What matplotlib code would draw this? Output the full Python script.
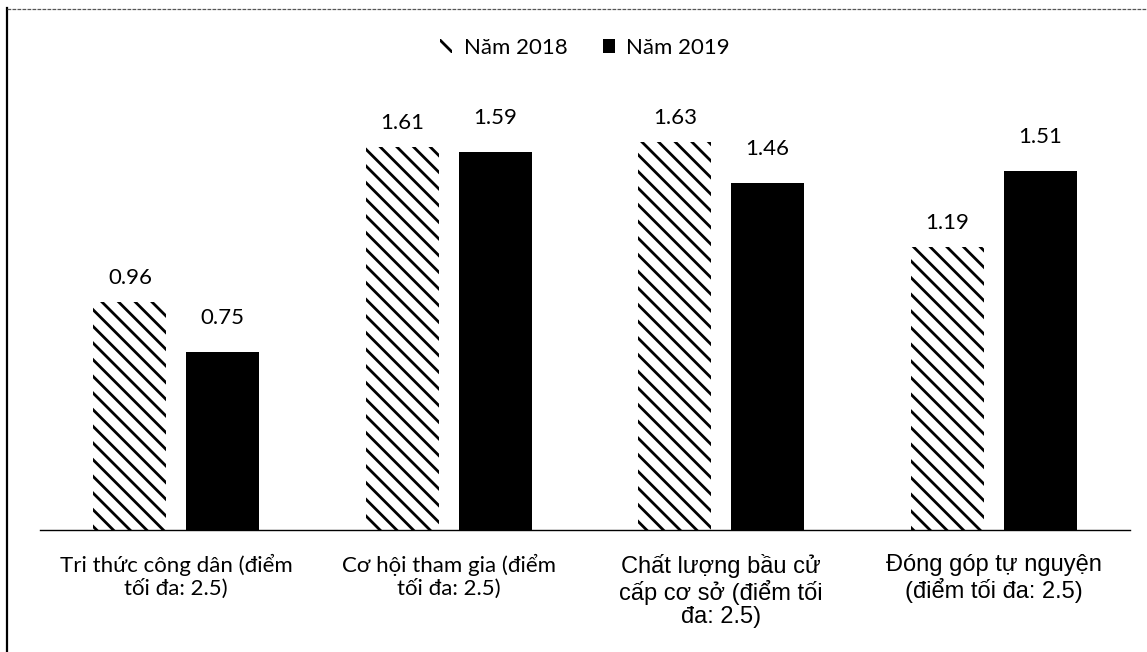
import matplotlib
matplotlib.use("Agg")
import matplotlib.pyplot as plt
from matplotlib.lines import Line2D
import numpy as np

categories = [
    "Tri thức công dân (điểm\ntối đa: 2.5)",
    "Cơ hội tham gia (điểm\ntối đa: 2.5)",
    "Chất lượng bầu cử\ncấp cơ sở (điểm tối\nđa: 2.5)",
    "Đóng góp tự nguyện\n(điểm tối đa: 2.5)",
]
series_names = ["Năm 2018", "Năm 2019"]
values_2018 = [0.96, 1.61, 1.63, 1.19]
values_2019 = [0.75, 1.59, 1.46, 1.51]

plt.rcParams["hatch.linewidth"] = 2.0
plt.rcParams["hatch.color"] = "black"

fig = plt.figure(figsize=(11.47, 6.52), dpi=100)
ax = fig.add_axes([40 / 1147, 1 - 530 / 652, 1090 / 1147, 428 / 652])

x = np.arange(len(categories))
w = 0.268
off = 0.17
b1 = ax.bar(x - off, values_2018, w, color="white", edgecolor="black",
            linewidth=0, hatch="\\\\", label=series_names[0])
b2 = ax.bar(x + off, values_2019, w, color="black", edgecolor="black",
            linewidth=0, label=series_names[1])

ax.set_xlim(-0.5, 3.5)
ax.set_ylim(0, 1.8)

for rects, vals, dy in ((b1, values_2018, 13), (b2, values_2019, 20)):
    for r, v in zip(rects, vals):
        ax.annotate(f"{v:.2f}", (r.get_x() + r.get_width() / 2, v),
                    xytext=(0, dy), textcoords="offset points",
                    ha="center", va="baseline", fontsize=16,
                    family="Lato", color="black")

for s in ["top", "right", "left"]:
    ax.spines[s].set_visible(False)
ax.spines["bottom"].set_linewidth(1.0)
ax.spines["bottom"].set_color("black")
ax.set_yticks([])
ax.set_xticks(x)
ax.set_xticklabels(categories, fontsize=16, linespacing=1.2)
ax.tick_params(axis="x", length=0, pad=17)
fams = ["Lato", "Lato", "Liberation Sans", "Liberation Sans"]
sizes = [16, 16, 17, 17]
for lab, f, s in zip(ax.get_xticklabels(), fams, sizes):
    lab.set_family(f)
    lab.set_fontsize(s)
    if f == "Liberation Sans":
        lab.set_linespacing(1.1)

leg = fig.legend(handles=[b1, b2], labels=series_names,
                 loc="center", bbox_to_anchor=(585 / 1147, 1 - 48 / 652),
                 ncol=2, frameon=False, prop={"family": "Lato", "size": 16},
                 handlelength=0.55, handleheight=0.55, handletextpad=0.5,
                 columnspacing=1.6)

# page frame
fig.add_artist(Line2D([7 / 1147, 7 / 1147], [0, 1 - 8 / 652],
                      transform=fig.transFigure, color="black", lw=1.6))
fig.add_artist(Line2D([7 / 1147, 1], [1 - 9 / 652, 1 - 9 / 652],
                      transform=fig.transFigure, color="#555555", lw=0.9,
                      ls=(0, (3, 1))))

fig.savefig("out.png", dpi=100)
